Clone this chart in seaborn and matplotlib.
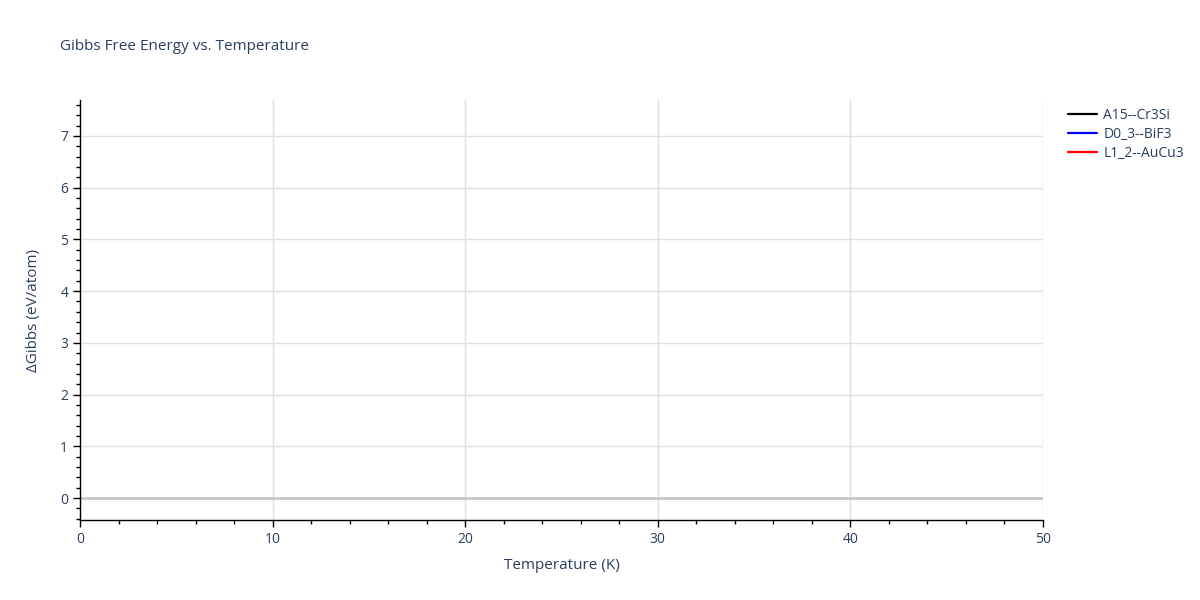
import numpy as np
import pandas as pd
import matplotlib
matplotlib.use('Agg')
import matplotlib.pyplot as plt
import seaborn as sns
from matplotlib.ticker import MultipleLocator

# series shown in the legend; no points fall inside the visible range
structures = ['A15--Cr3Si', 'D0_3--BiF3', 'L1_2--AuCu3']
colors = ['black', 'blue', 'red']
temperature = [np.nan]
gibbs = [np.nan]

x_ticks = [0, 10, 20, 30, 40, 50]
y_ticks = [0, 1, 2, 3, 4, 5, 6, 7]

text_color = '#2a3f5f'

sns.set_style('white')
plt.rcParams['font.family'] = ['Open Sans', 'DejaVu Sans']

fig = plt.figure(figsize=(12, 6), dpi=100)
ax = fig.add_axes([80 / 1200, 80 / 600, (1043 - 80) / 1200, (520 - 100) / 600])

for name, col in zip(structures, colors):
    df = pd.DataFrame({'T': temperature, 'G': gibbs})
    ax.plot(df['T'], df['G'], color=col, lw=1.6, label=name)

ax.set_xlim(0, 50)
ax.set_ylim(-0.425, 7.696)
ax.set_xticks(x_ticks)
ax.set_yticks(y_ticks)
ax.xaxis.set_minor_locator(MultipleLocator(2))
ax.yaxis.set_minor_locator(MultipleLocator(0.2))

ax.grid(True, which='major', color='#e0e0e0', lw=1)
ax.axhline(0, color='#c8c8c8', lw=2, zorder=1)
ax.set_axisbelow(True)

for s in ['top', 'right']:
    ax.spines[s].set_visible(False)
for s in ['left', 'bottom']:
    ax.spines[s].set_color('black')
    ax.spines[s].set_linewidth(1)

ax.tick_params(which='major', direction='out', length=5, width=1, color='black',
               labelsize=10, labelcolor=text_color, left=True, bottom=True)
ax.tick_params(which='minor', direction='out', length=3, width=1, color='black',
               left=True, bottom=True)

ax.set_xlabel('Temperature (K)', fontsize=11, color=text_color, labelpad=8)
ax.set_ylabel('ΔGibbs (eV/atom)', fontsize=11, color=text_color, labelpad=14)

fig.text(60 / 1200, 1 - 46 / 600, 'Gibbs Free Energy vs. Temperature',
         fontsize=11, color=text_color, va='center', ha='left')

leg = ax.legend(loc='upper left', bbox_to_anchor=(1.02, 1.0 - 2 / 420), frameon=False,
                fontsize=10, handlelength=2.1, handletextpad=0.45, labelspacing=0.3,
                borderaxespad=0)
for t in leg.get_texts():
    t.set_color(text_color)

fig.savefig('out.png', dpi=100)
